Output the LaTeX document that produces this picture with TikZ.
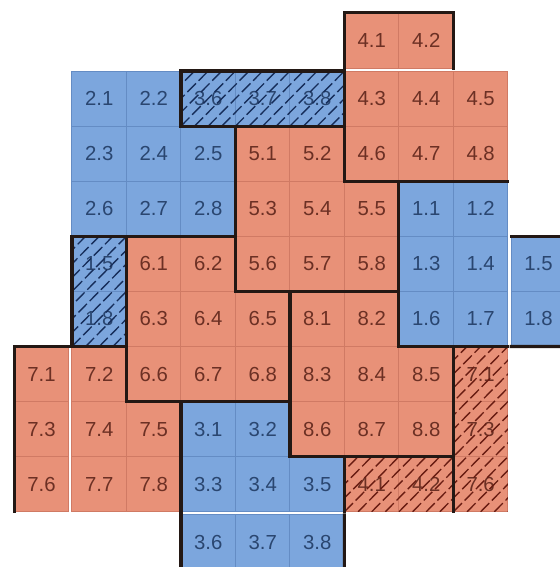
\documentclass[tikz,border=0pt]{standalone}
\usepackage{fontspec}
\setmainfont{Liberation Sans}
\usepackage{tikz}
\definecolor{cellblue}{RGB}{124,166,221}
\definecolor{cellsalmon}{RGB}{232,145,120}
\definecolor{gridblue}{RGB}{100,140,196}
\definecolor{gridsalmon}{RGB}{208,122,100}
\definecolor{textblue}{RGB}{42,70,112}
\definecolor{textsalmon}{RGB}{108,48,36}
\definecolor{hatchblue}{RGB}{22,45,90}
\definecolor{hatchsalmon}{RGB}{105,28,18}
\definecolor{edgedark}{RGB}{35,24,20}

\begin{document}
\begin{tikzpicture}[x=0.989cm, y=-1cm,
    cell/.style={rectangle, draw, line width=0.5pt,
                 minimum width=0.989cm, minimum height=1cm,
                 inner sep=0pt, outer sep=0pt,
                 font=\fontsize{10.5}{12}\selectfont},
    bcell/.style={cell, fill=cellblue, draw=gridblue, text=textblue},
    scell/.style={cell, fill=cellsalmon, draw=gridsalmon, text=textsalmon},
    bhatch/.style={line width=0.7pt, hatchblue, dash pattern=on 0.22cm off 0.07cm},
    shatch/.style={line width=0.7pt, hatchsalmon, dash pattern=on 0.22cm off 0.07cm},
    edge/.style={line width=1.6pt, edgedark, line cap=rect}]

\useasboundingbox (-1.321,-1.289) rectangle (8.954,9.002);
\clip (-1.321,-1.289) rectangle (8.954,9.002);

%% ── Blue pieces ──────────────────────────────────────────────────────────────
\foreach \c/\r/\lab in {7/3/1.1, 8/3/1.2, 7/4/1.3, 8/4/1.4, 7/5/1.6, 8/5/1.7}
    \node[bcell] (m-\c-\r) at (\c-0.5,\r-0.5) {\lab};

\foreach \c/\r/\lab in {1/1/2.1, 2/1/2.2, 1/2/2.3, 2/2/2.4, 3/2/2.5,
                        1/3/2.6, 2/3/2.7, 3/3/2.8}
    \node[bcell] (m-\c-\r) at (\c-0.5,\r-0.5) {\lab};

\foreach \c/\r/\lab in {3/7/3.1, 4/7/3.2, 3/8/3.3, 4/8/3.4, 5/8/3.5}
    \node[bcell] (m-\c-\r) at (\c-0.5,\r-0.5) {\lab};

%% ── Salmon pieces ────────────────────────────────────────────────────────────
\foreach \c/\r/\lab in {6/1/4.3, 7/1/4.4, 8/1/4.5, 6/2/4.6, 7/2/4.7, 8/2/4.8}
    \node[scell] (m-\c-\r) at (\c-0.5,\r-0.5) {\lab};

\foreach \c/\r/\lab in {4/2/5.1, 5/2/5.2, 4/3/5.3, 5/3/5.4, 6/3/5.5,
                        4/4/5.6, 5/4/5.7, 6/4/5.8}
    \node[scell] (m-\c-\r) at (\c-0.5,\r-0.5) {\lab};

\foreach \c/\r/\lab in {2/4/6.1, 3/4/6.2, 2/5/6.3, 3/5/6.4, 4/5/6.5,
                        2/6/6.6, 3/6/6.7, 4/6/6.8}
    \node[scell] (m-\c-\r) at (\c-0.5,\r-0.5) {\lab};

\foreach \c/\r/\lab in {1/6/7.2, 1/7/7.4, 2/7/7.5, 1/8/7.7, 2/8/7.8}
    \node[scell] (m-\c-\r) at (\c-0.5,\r-0.5) {\lab};

\foreach \c/\r/\lab in {5/5/8.1, 6/5/8.2, 5/6/8.3, 6/6/8.4, 7/6/8.5,
                        5/7/8.6, 6/7/8.7, 7/7/8.8}
    \node[scell] (m-\c-\r) at (\c-0.5,\r-0.5) {\lab};

%% ── Wrapped copies (hatched) ─────────────────────────────────────────────────
\foreach \c/\lab in {3/3.6, 4/3.7, 5/3.8}
    \node[bcell] (m-\c-1) at (\c-0.5,0.5) {\lab};
\foreach \r/\lab in {4/1.5, 5/1.8}
    \node[bcell] (m-1-\r) at (0.5,\r-0.5) {\lab};
\foreach \r/\lab in {6/7.1, 7/7.3, 8/7.6}
    \node[scell] (m-8-\r) at (7.5,\r-0.5) {\lab};
\foreach \c/\lab in {6/4.1, 7/4.2}
    \node[scell] (m-\c-8) at (\c-0.5,7.5) {\lab};

\begin{scope}
    \clip (2,0) rectangle (5,1);
    \foreach \k in {2,2.25,...,6.1} \draw[bhatch] (\k-1,1) -- (\k,0);
\end{scope}
\begin{scope}
    \clip (0,3) rectangle (1,5);
    \foreach \k in {0,0.25,...,3.1} \draw[bhatch] (\k-2,5) -- (\k,3);
\end{scope}
\begin{scope}
    \clip (7,5) rectangle (8,8);
    \foreach \k in {7,7.25,...,11.1} \draw[shatch] (\k-3,8) -- (\k,5);
\end{scope}
\begin{scope}
    \clip (5,7) rectangle (7,8);
    \foreach \k in {5,5.25,...,8.1} \draw[shatch] (\k-1,8) -- (\k,7);
\end{scope}

%% ── Cells beyond the border ──────────────────────────────────────────────────
\foreach \c/\lab in {6/4.1, 7/4.2}
    \node[scell] (top-\c) at (\c-0.5,-0.555) {\lab};
\foreach \r/\lab in {6/7.1, 7/7.3, 8/7.6}
    \node[scell] (left-\r) at (-0.56,\r-0.5) {\lab};
\foreach \r/\lab in {4/1.5, 5/1.8}
    \node[bcell] (right-\r) at (8.56,\r-0.5) {\lab};
\foreach \c/\lab in {3/3.6, 4/3.7, 5/3.8}
    \node[bcell] (bot-\c) at (\c-0.5,8.555) {\lab};

%% ── Piece outlines ───────────────────────────────────────────────────────────
\draw[edge] (2,1) -- (2,0) -- (5,0) -- (5,2) -- (8,2);
\draw[edge] (2,1) -- (5,1);
\draw[edge] (3,1) -- (3,4) -- (6,4);
\draw[edge] (6,2) -- (6,5) -- (8,5);
\draw[edge] (1,5) -- (0,5) -- (0,3) -- (3,3);
\draw[edge] (1,3) -- (1,6) -- (4,6);
\draw[edge] (4,4) -- (4,7) -- (7,7);
\draw[edge] (7,5) -- (7,8);
\draw[edge] (2,6) -- (2,8);
\draw[edge] (5,7) -- (5,8);

% outside pieces
\draw[edge] (top-6.south west) -- (top-6.north west) -- (top-7.north east) -- (top-7.south east);
\draw[edge] (left-6.north east) -- (left-6.north west) -- (left-8.south west);
\draw[edge] (right-4.north west) -- (9.2,3);
\draw[edge] (right-5.south west) -- (9.2,5);
\draw[edge] (bot-3.north west) -- (2,9.2);
\draw[edge] (bot-5.north east) -- (5,9.2);

\end{tikzpicture}
\end{document}
